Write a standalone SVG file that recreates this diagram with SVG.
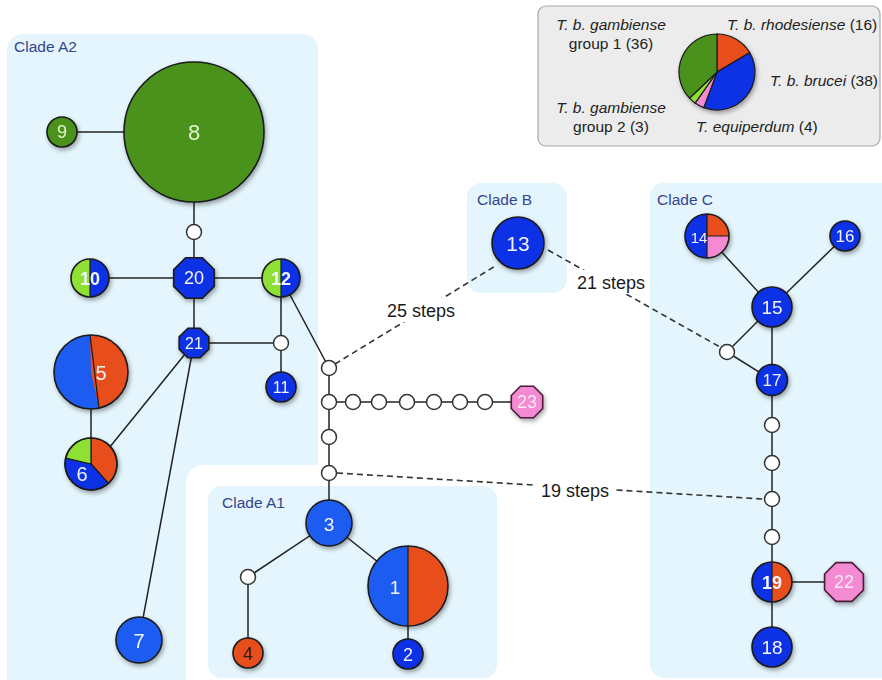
<svg xmlns="http://www.w3.org/2000/svg" width="882" height="680" viewBox="0 0 882 680">
<defs>
<filter id="sh" x="-30%" y="-30%" width="160%" height="160%">
<feDropShadow dx="1.5" dy="2.5" stdDeviation="2" flood-color="#000" flood-opacity="0.35"/>
</filter>
<style>
.clade{fill:#e4f5fd}
.ctext{font-family:"Liberation Sans",Arial,sans-serif;font-size:15.5px;fill:#34458c}
.edge{stroke:#222;stroke-width:1.5;fill:none}
.dash{stroke:#333;stroke-width:1.6;fill:none;stroke-dasharray:6 4}
.nd{stroke:#1a1a1a;stroke-width:1.6}
.sp{stroke:#1a1a1a;stroke-width:1.2}
.g{fill:#4b921e}
.l{fill:#8ee034}
.b{fill:#0b30e6}
.b2{fill:#1d5cf0}
.r{fill:#e84d1c}
.p{fill:#f48bd2}
.w{fill:#fff;stroke:#333;stroke-width:1.5}
.lab{font-family:"Liberation Sans",Arial,sans-serif;fill:#f2f4ff;text-anchor:middle;dominant-baseline:central}
.step{font-family:"Liberation Sans",Arial,sans-serif;font-size:18px;fill:#1a1a1a;text-anchor:middle}
.leg{font-family:"Liberation Sans",Arial,sans-serif;font-size:15.5px;fill:#222}
</style>
</defs>
<rect width="882" height="680" fill="#fff"/>
<!-- clade boxes -->
<rect class="clade" x="7" y="34" width="311" height="680" rx="16"/>
<rect x="186" y="465" width="340" height="240" rx="18" fill="#fff"/>
<rect class="clade" x="208" y="486" width="289" height="192" rx="14"/>
<rect class="clade" x="467" y="183" width="100" height="110" rx="14"/>
<rect class="clade" x="650" y="183" width="250" height="495" rx="14"/>
<text class="ctext" x="14" y="52">Clade A2</text>
<text class="ctext" x="222" y="508">Clade A1</text>
<text class="ctext" x="477" y="205">Clade B</text>
<text class="ctext" x="657" y="205">Clade C</text>

<!-- legend -->
<g id="legend">
<rect x="538" y="6" width="342" height="140" rx="8" fill="#ececec" stroke="#a8a8a8" stroke-width="1.2"/>
<g filter="url(#sh)">
<path class="sp r" d="M717,72 L717,34 A38,38 0 0 1 749.7,52.66 Z"/>
<path class="sp b" d="M717,72 L749.7,52.66 A38,38 0 0 1 703.75,107.62 Z"/>
<path class="sp p" d="M717,72 L703.75,107.62 A38,38 0 0 1 695.1,103.05 Z"/>
<path class="sp l" d="M717,72 L695.1,103.05 A38,38 0 0 1 689.48,98.2 Z"/>
<path class="sp g" d="M717,72 L689.48,98.2 A38,38 0 0 1 717,34 Z"/>
</g>
<text class="leg" x="611" y="30" text-anchor="middle"><tspan font-style="italic">T. b. gambiense</tspan></text>
<text class="leg" x="611" y="49" text-anchor="middle">group 1 (36)</text>
<text class="leg" x="727" y="30"><tspan font-style="italic">T. b. rhodesiense</tspan> (16)</text>
<text class="leg" x="770" y="86"><tspan font-style="italic">T. b. brucei</tspan> (38)</text>
<text class="leg" x="611" y="113" text-anchor="middle"><tspan font-style="italic">T. b. gambiense</tspan></text>
<text class="leg" x="611" y="132" text-anchor="middle">group 2 (3)</text>
<text class="leg" x="696" y="132"><tspan font-style="italic">T. equiperdum</tspan> (4)</text>
</g>

<!-- connectors -->
<g id="connectors">
<line class="edge" x1="62" y1="132" x2="194" y2="132"/>
<line class="edge" x1="194" y1="132" x2="194" y2="343"/>
<line class="edge" x1="90" y1="278" x2="281" y2="278"/>
<line class="edge" x1="194" y1="343" x2="281" y2="343"/>
<line class="edge" x1="281" y1="278" x2="281" y2="387"/>
<line class="edge" x1="281" y1="278" x2="329" y2="368"/>
<line class="edge" x1="91" y1="372" x2="91" y2="464"/>
<line class="edge" x1="194" y1="343" x2="105" y2="453"/>
<line class="edge" x1="194" y1="343" x2="139" y2="640"/>
<line class="edge" x1="329" y1="368" x2="329" y2="523"/>
<line class="edge" x1="329" y1="402" x2="527" y2="402"/>
<line class="edge" x1="329" y1="523" x2="248" y2="577"/>
<line class="edge" x1="248" y1="577" x2="248" y2="653"/>
<line class="edge" x1="329" y1="523" x2="408" y2="586"/>
<line class="edge" x1="408" y1="586" x2="408" y2="654"/>
<line class="edge" x1="707" y1="236" x2="772" y2="307"/>
<line class="edge" x1="845" y1="236" x2="772" y2="307"/>
<line class="edge" x1="772" y1="307" x2="727" y2="352"/>
<line class="edge" x1="727" y1="352" x2="772" y2="380"/>
<line class="edge" x1="772" y1="307" x2="772" y2="647"/>
<line class="edge" x1="772" y1="582" x2="844" y2="582"/>
<line class="dash" x1="335" y1="364" x2="497" y2="265"/>
<line class="dash" x1="548" y1="250" x2="720" y2="347"/>
<line class="dash" x1="337" y1="473" x2="763" y2="499"/>
<rect x="384" y="298" width="76" height="24" fill="#fff"/>
<rect x="574" y="270" width="74" height="24" fill="#fff"/>
<rect x="536" y="478" width="80" height="24" fill="#fff"/>
<text class="step" x="421" y="317">25 steps</text>
<text class="step" x="611" y="289">21 steps</text>
<text class="step" x="575" y="497">19 steps</text>
</g>

<!-- Clade A2 nodes -->
<g id="n8" filter="url(#sh)"><circle class="nd g" cx="194" cy="132" r="70"/><text class="lab" x="194" y="132" font-size="22" style="fill:#e2f5cc">8</text></g>
<g id="n9" filter="url(#sh)"><circle class="nd g" cx="62" cy="132" r="15"/><text class="lab" x="62" y="132" font-size="18" style="fill:#e2f5cc">9</text></g>
<g id="m1"><circle class="w" cx="194" cy="232" r="7.5"/></g>
<g id="n20" filter="url(#sh)"><polygon class="nd b" points="214.3,286.4 202.4,298.3 185.6,298.3 173.7,286.4 173.7,269.6 185.6,257.7 202.4,257.7 214.3,269.6"/><text class="lab" x="194" y="278" font-size="18">20</text></g>
<g id="n10" filter="url(#sh)"><path class="l" d="M90,259 A19,19 0 0 0 90,297 Z"/><path class="b" d="M90,259 A19,19 0 0 1 90,297 Z"/><line x1="90" y1="259" x2="90" y2="297" stroke="#1a1a1a" stroke-width="1.2"/><circle cx="90" cy="278" r="19" fill="none" stroke="#1a1a1a" stroke-width="1.6"/><text class="lab" x="90" y="279" font-size="18" font-weight="bold">10</text></g>
<g id="n12" filter="url(#sh)"><path class="l" d="M281,259 A19,19 0 0 0 281,297 Z"/><path class="b" d="M281,259 A19,19 0 0 1 281,297 Z"/><line x1="281" y1="259" x2="281" y2="297" stroke="#1a1a1a" stroke-width="1.2"/><circle cx="281" cy="278" r="19" fill="none" stroke="#1a1a1a" stroke-width="1.6"/><text class="lab" x="281" y="279" font-size="18" font-weight="bold">12</text></g>
<g id="n21" filter="url(#sh)"><polygon class="nd b" points="208.8,349.1 200.1,357.8 187.9,357.8 179.2,349.1 179.2,336.9 187.9,328.2 200.1,328.2 208.8,336.9"/><text class="lab" x="194" y="343" font-size="16">21</text></g>
<g id="m2"><circle class="w" cx="281" cy="343" r="7.5"/></g>
<g id="n11" filter="url(#sh)"><circle class="nd b" cx="281" cy="387" r="15"/><text class="lab" x="281" y="387" font-size="16">11</text></g>
<g id="n5" filter="url(#sh)"><circle class="b2" cx="91" cy="372" r="37"/><path class="r" d="M91,372 L90,335 A37,37 0 0 1 99,408.1 Z"/><line x1="90" y1="335" x2="99" y2="408.1" stroke="#1a1a1a" stroke-width="1.2"/><circle cx="91" cy="372" r="37" fill="none" stroke="#1a1a1a" stroke-width="1.6"/><text class="lab" x="101" y="373" font-size="20">5</text></g>
<g id="n6" filter="url(#sh)"><path class="sp r" d="M91,464 L91,438 A26,26 0 0 1 108.4,483.3 Z"/><path class="sp b" d="M91,464 L108.4,483.3 A26,26 0 0 1 65.7,458.15 Z"/><path class="sp l" d="M91,464 L65.7,458.15 A26,26 0 0 1 91,438 Z"/><circle cx="91" cy="464" r="26" fill="none" stroke="#1a1a1a" stroke-width="1.6"/><text class="lab" x="82" y="474" font-size="20">6</text></g>
<g id="n7" filter="url(#sh)"><circle class="nd b2" cx="139" cy="640" r="23"/><text class="lab" x="139" y="641" font-size="20">7</text></g>

<!-- central chain -->
<g id="m3"><circle class="w" cx="329" cy="368" r="7.5"/></g>
<g id="m4"><circle class="w" cx="329" cy="402" r="7.5"/></g>
<g id="m5"><circle class="w" cx="329" cy="437" r="7.5"/></g>
<g id="m6"><circle class="w" cx="329" cy="473" r="7.5"/></g>
<g id="m7"><circle class="w" cx="353" cy="402" r="7.5"/></g>
<g id="m8"><circle class="w" cx="379" cy="402" r="7.5"/></g>
<g id="m9"><circle class="w" cx="407" cy="402" r="7.5"/></g>
<g id="m10"><circle class="w" cx="434" cy="402" r="7.5"/></g>
<g id="m11"><circle class="w" cx="460" cy="402" r="7.5"/></g>
<g id="m12"><circle class="w" cx="485" cy="402" r="7.5"/></g>
<g id="n23" filter="url(#sh)"><polygon class="nd p" points="542.7,408.5 533.5,417.7 520.5,417.7 511.3,408.5 511.3,395.5 520.5,386.3 533.5,386.3 542.7,395.5" style="stroke:#4a1a3a"/><text class="lab" x="527" y="402" font-size="18" style="fill:#fbe8f4">23</text></g>

<!-- Clade A1 -->
<g id="n3" filter="url(#sh)"><circle class="nd b2" cx="329" cy="523" r="23"/><text class="lab" x="329" y="524" font-size="19">3</text></g>
<g id="m13"><circle class="w" cx="248" cy="577" r="7.5"/></g>
<g id="n4" filter="url(#sh)"><circle class="nd r" cx="248" cy="653" r="15"/><text class="lab" x="248" y="654" font-size="18" style="fill:#2a1a14">4</text></g>
<g id="n1" filter="url(#sh)"><path class="b2" d="M408,546 A40,40 0 0 0 408,626 Z"/><path class="r" d="M408,546 A40,40 0 0 1 408,626 Z"/><line x1="408" y1="546" x2="408" y2="626" stroke="#1a1a1a" stroke-width="1.2"/><circle cx="408" cy="586" r="40" fill="none" stroke="#1a1a1a" stroke-width="1.6"/><text class="lab" x="395" y="587" font-size="19">1</text></g>
<g id="n2" filter="url(#sh)"><circle class="nd b" cx="408" cy="654" r="15"/><text class="lab" x="408" y="655" font-size="18">2</text></g>

<!-- Clade B -->
<g id="n13" filter="url(#sh)"><circle class="nd b" cx="518" cy="243" r="26"/><text class="lab" x="518" y="243" font-size="21">13</text></g>

<!-- Clade C -->
<g id="n14" filter="url(#sh)"><path class="b" d="M707,214 A22,22 0 0 0 707,258 Z"/><path class="r" d="M707,236 L707,214 A22,22 0 0 1 729,236 Z"/><path class="p" d="M707,236 L729,236 A22,22 0 0 1 707,258 Z"/><path d="M707,214 L707,258 M707,236 L729,236" stroke="#1a1a1a" stroke-width="1.2"/><circle cx="707" cy="236" r="22" fill="none" stroke="#1a1a1a" stroke-width="1.6"/><text class="lab" x="699" y="237" font-size="15">14</text></g>
<g id="n16" filter="url(#sh)"><circle class="nd b" cx="845" cy="236" r="15"/><text class="lab" x="845" y="236" font-size="17">16</text></g>
<g id="n15" filter="url(#sh)"><circle class="nd b" cx="772" cy="307" r="20"/><text class="lab" x="772" y="307" font-size="19">15</text></g>
<g id="m14"><circle class="w" cx="727" cy="352" r="7.5"/></g>
<g id="n17" filter="url(#sh)"><circle class="nd b" cx="772" cy="380" r="15.5"/><text class="lab" x="772" y="380" font-size="17">17</text></g>
<g id="m15"><circle class="w" cx="772" cy="425" r="7.5"/></g>
<g id="m16"><circle class="w" cx="772" cy="463" r="7.5"/></g>
<g id="m17"><circle class="w" cx="772" cy="499" r="7.5"/></g>
<g id="m18"><circle class="w" cx="772" cy="537" r="7.5"/></g>
<g id="n19" filter="url(#sh)"><path class="b" d="M772,562 A20,20 0 0 0 772,602 Z"/><path class="r" d="M772,562 A20,20 0 0 1 772,602 Z"/><line x1="772" y1="562" x2="772" y2="602" stroke="#1a1a1a" stroke-width="1.2"/><circle cx="772" cy="582" r="20" fill="none" stroke="#1a1a1a" stroke-width="1.6"/><text class="lab" x="772" y="583" font-size="18" font-weight="bold">19</text></g>
<g id="n22" filter="url(#sh)"><polygon class="nd p" points="863.4,590 852,601.4 836,601.4 824.6,590 824.6,574 836,562.6 852,562.6 863.4,574" style="stroke:#4a1a3a"/><text class="lab" x="844" y="582" font-size="18" style="fill:#fbe8f4">22</text></g>
<g id="n18" filter="url(#sh)"><circle class="nd b" cx="772" cy="647" r="20"/><text class="lab" x="772" y="647" font-size="19">18</text></g>
</svg>
